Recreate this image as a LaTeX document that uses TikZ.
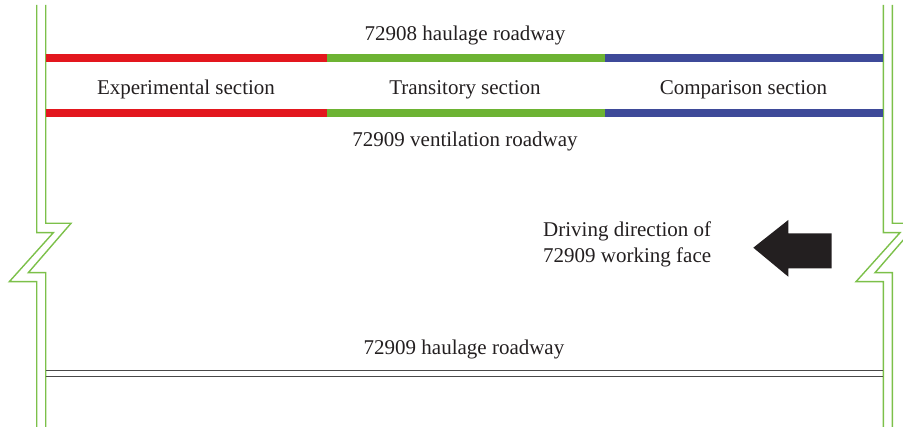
\documentclass[tikz,border=0pt]{standalone}
\usepackage{fontspec}
\setmainfont{Liberation Serif}
\usepackage{tikz}
\usetikzlibrary{positioning}
\usepackage{xcolor}
\definecolor{wallgreen}{HTML}{7CC04A}
\definecolor{expred}{HTML}{E3171E}
\definecolor{transgreen}{HTML}{6DB333}
\definecolor{compblue}{HTML}{3E4A99}
\definecolor{roadgray}{HTML}{4A4A4A}
\definecolor{txtdark}{HTML}{231F20}
\tikzset{
  wall/.style   ={draw=wallgreen, line width=1.4pt},
  bar/.style    ={line width=7.5pt},
  road/.style   ={draw=roadgray, line width=1.6pt},
  lbl/.style    ={anchor=base, text=txtdark, font=\fontsize{21}{26}\selectfont, inner sep=0pt},
  dirarrow/.style={fill=txtdark, draw=none},
}

\begin{document}
\begin{tikzpicture}[x=1pt, y=-1pt]
    \useasboundingbox (0,0) rectangle (903,430);
    \clip (0,0) rectangle (903,430);

    % coal pillar walls with break marks
    \foreach \dx in {0, 846.7} {
      \draw[wall] (36.7+\dx,5) -- (36.7+\dx,232.7) -- (53.3+\dx,232.7) -- (9.3+\dx,281.7) -- (36.7+\dx,281.7) -- (36.7+\dx,427);
      \draw[wall] (45.7+\dx,5) -- (45.7+\dx,223.3) -- (71+\dx,223.3) -- (28.3+\dx,272.7) -- (45.7+\dx,272.7) -- (45.7+\dx,427);
    }

    % sections along the roadways
    \coordinate (a1) at (45.7,58);   \coordinate (a2) at (326.7,58);
    \coordinate (a3) at (605,58);    \coordinate (a4) at (883.3,58);
    \coordinate (b1) at (45.7,113);  \coordinate (b2) at (326.7,113);
    \coordinate (b3) at (605,113);   \coordinate (b4) at (883.3,113);
    \draw[bar, expred] (a1) -- (a2);
    \draw[bar, transgreen] (a2) -- (a3);
    \draw[bar, compblue] (a3) -- (a4);
    \draw[bar, expred] (b1) -- (b2);
    \draw[bar, transgreen] (b2) -- (b3);
    \draw[bar, compblue] (b3) -- (b4);

    \node[lbl] (hr8) at (465,41) {72908 haulage roadway};
    \node[lbl] (exp) at (186,95) {Experimental section};
    \node[lbl] (tra) at (465,95) {Transitory section};
    \node[lbl] (com) at (743.5,95) {Comparison section};
    \node[lbl] (vr9) at (465,147) {72909 ventilation roadway};

    % driving direction
    \node[lbl, anchor=base west, align=left] (drv) at (543,262.5) {Driving direction of\\72909 working face};
    \fill[dirarrow] (753.3,247.7) -- (788.3,220) -- (788.3,233.3) -- (831.7,233.3)
        -- (831.7,268.3) -- (788.3,268.3) -- (788.3,276.7) -- cycle;

    % lower roadway
    \node[lbl] (hr9) at (464,355) {72909 haulage roadway};
    \coordinate (c1) at (45.7,370.7); \coordinate (c2) at (883.3,370.7);
    \coordinate (d1) at (45.7,376.7); \coordinate (d2) at (883.3,376.7);
    \draw[road] (c1) -- (c2);
    \draw[road] (d1) -- (d2);
  \end{tikzpicture}
\end{document}
